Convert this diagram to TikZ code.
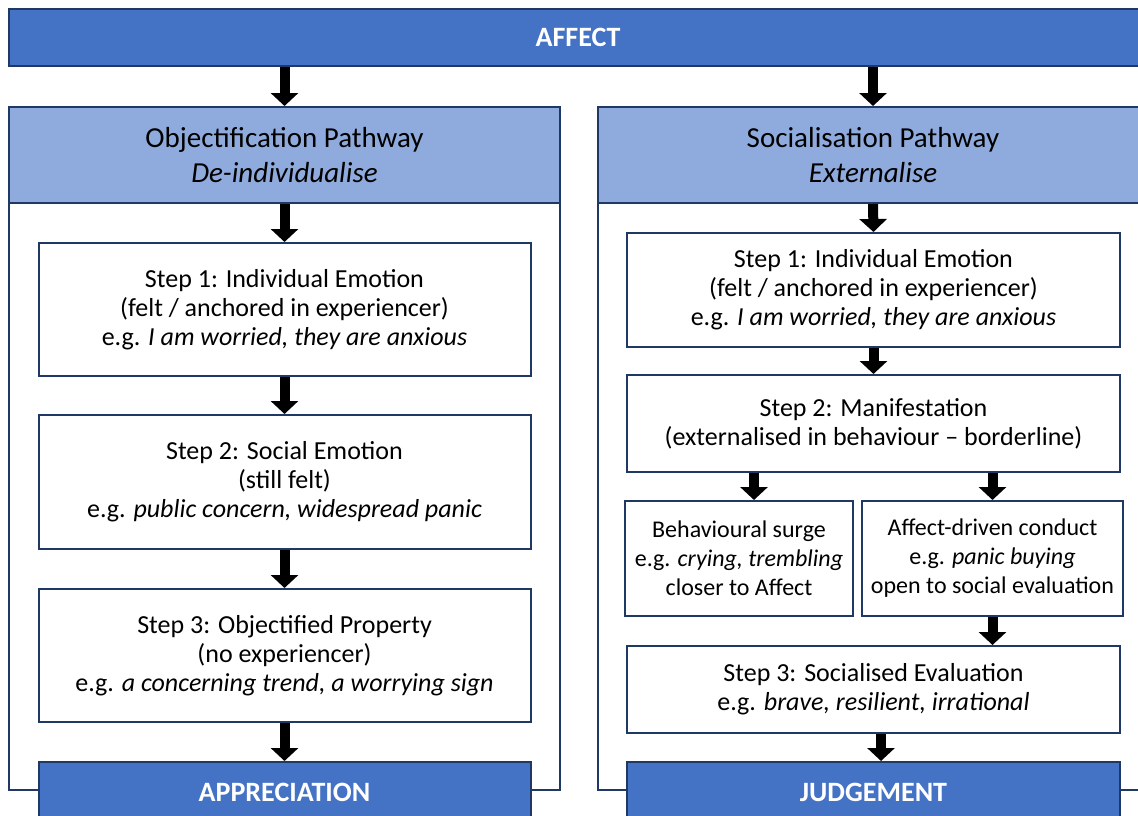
\documentclass[tikz,border=0pt]{standalone}
\usepackage{fontspec}
\setmainfont{Carlito}
\usepackage{xcolor}
\usepackage{tikz}
\usetikzlibrary{positioning, arrows.meta, calc}

\definecolor{navy}{HTML}{203864}
\definecolor{affectblue}{HTML}{4472C4}
\definecolor{headblue}{HTML}{8FAADC}

\begin{document}
\begin{tikzpicture}[x=1pt, y=-1pt,
    stepbox/.style={draw=navy, line width=2pt, fill=white, align=center, inner sep=0pt,
      font=\fontsize{26}{29}\selectfont},
    smallbox/.style={stepbox, font=\fontsize{24}{29}\selectfont},
    headbox/.style={stepbox, fill=headblue, font=\fontsize{29}{35}\selectfont},
    endbox/.style={stepbox, fill=affectblue, text=white, font=\fontsize{28}{34}\selectfont\bfseries},
    flow/.style={line width=10pt, draw=black, -{Triangle[width=27pt,length=13pt]}}]
        \useasboundingbox (0,0) rectangle (1138,816);
        \clip (0,0) rectangle (1138,816);

        % Panel frames
        \draw[navy, line width=2pt] (9,107) rectangle (560,790);
        \draw[navy, line width=2pt] (598,107) rectangle (1148,790);

        % Top: Affect
        \node[endbox, minimum width=1138pt, minimum height=57pt] (affect) at (578,37.5) {AFFECT};

        % Left: Objectification Pathway
        \node[headbox, minimum width=551pt, minimum height=96pt] (objhead) at (284.5,155)
          {Objectification Pathway\\\textit{De-individualise}};
        \node[stepbox, minimum width=492pt, minimum height=133pt] (lstep1) at (284.5,309.5)
          {Step 1: Individual Emotion\\(felt / anchored in experiencer)\\e.g. \textit{I am worried, they are anxious}};
        \node[stepbox, minimum width=492pt, minimum height=134pt] (lstep2) at (284.5,482)
          {Step 2: Social Emotion\\(still felt)\\e.g. \textit{public concern, widespread panic}};
        \node[stepbox, minimum width=492pt, minimum height=133pt] (lstep3) at (284.5,655.5)
          {Step 3: Objectified Property\\(no experiencer)\\e.g. \textit{a concerning trend, a worrying sign}};
        \node[endbox, minimum width=492pt, minimum height=60pt] (appr) at (284.5,792) {APPRECIATION};

        % Right: Socialisation Pathway
        \node[headbox, minimum width=550pt, minimum height=96pt] (socialhead) at (873,155)
          {Socialisation Pathway\\\textit{Externalise}};
        \node[stepbox, minimum width=493pt, minimum height=114pt] (rstep1) at (873.5,290)
          {Step 1: Individual Emotion\\(felt / anchored in experiencer)\\e.g. \textit{I am worried, they are anxious}};
        \node[stepbox, minimum width=493pt, minimum height=97pt] (rstep2) at (873.5,423.5)
          {Step 2: Manifestation\\(externalised in behaviour -- borderline)};
        \node[smallbox, minimum width=228pt, minimum height=115pt] (surge) at (739,558.5)
          {Behavioural surge\\e.g. \textit{crying, trembling}\\closer to Affect};
        \node[smallbox, minimum width=261pt, minimum height=115pt] (conduct) at (992.5,558.5)
          {Affect-driven conduct\\e.g. \textit{panic buying}\\open to social evaluation};
        \node[stepbox, minimum width=493pt, minimum height=87pt] (rstep3) at (873.5,689.5)
          {Step 3: Socialised Evaluation\\e.g. \textit{brave, resilient, irrational}};
        \node[endbox, minimum width=493pt, minimum height=60pt] (judg) at (873.5,792) {JUDGEMENT};

        % Arrows
        \draw[flow] (affect.south -| objhead.north) -- (objhead.north);
        \draw[flow] (affect.south -| socialhead.north) -- (socialhead.north);
        \draw[flow] (objhead.south) -- (lstep1.north);
        \draw[flow] (lstep1) -- (lstep2);
        \draw[flow] (lstep2) -- (lstep3);
        \draw[flow] (lstep3) -- (appr);
        \draw[flow] (socialhead.south) -- (rstep1.north);
        \draw[flow] (rstep1) -- (rstep2);
        \draw[flow] ([xshift=15pt]rstep2.south -| surge.north) -- ([xshift=15pt]surge.north);
        \draw[flow] (rstep2.south -| conduct.north) -- (conduct.north);
        \draw[flow] (conduct.south) -- (conduct.south |- rstep3.north);
        \draw[flow] ([xshift=7.5pt]rstep3.south) -- ([xshift=7.5pt]judg.north);
    \end{tikzpicture}
\end{document}
